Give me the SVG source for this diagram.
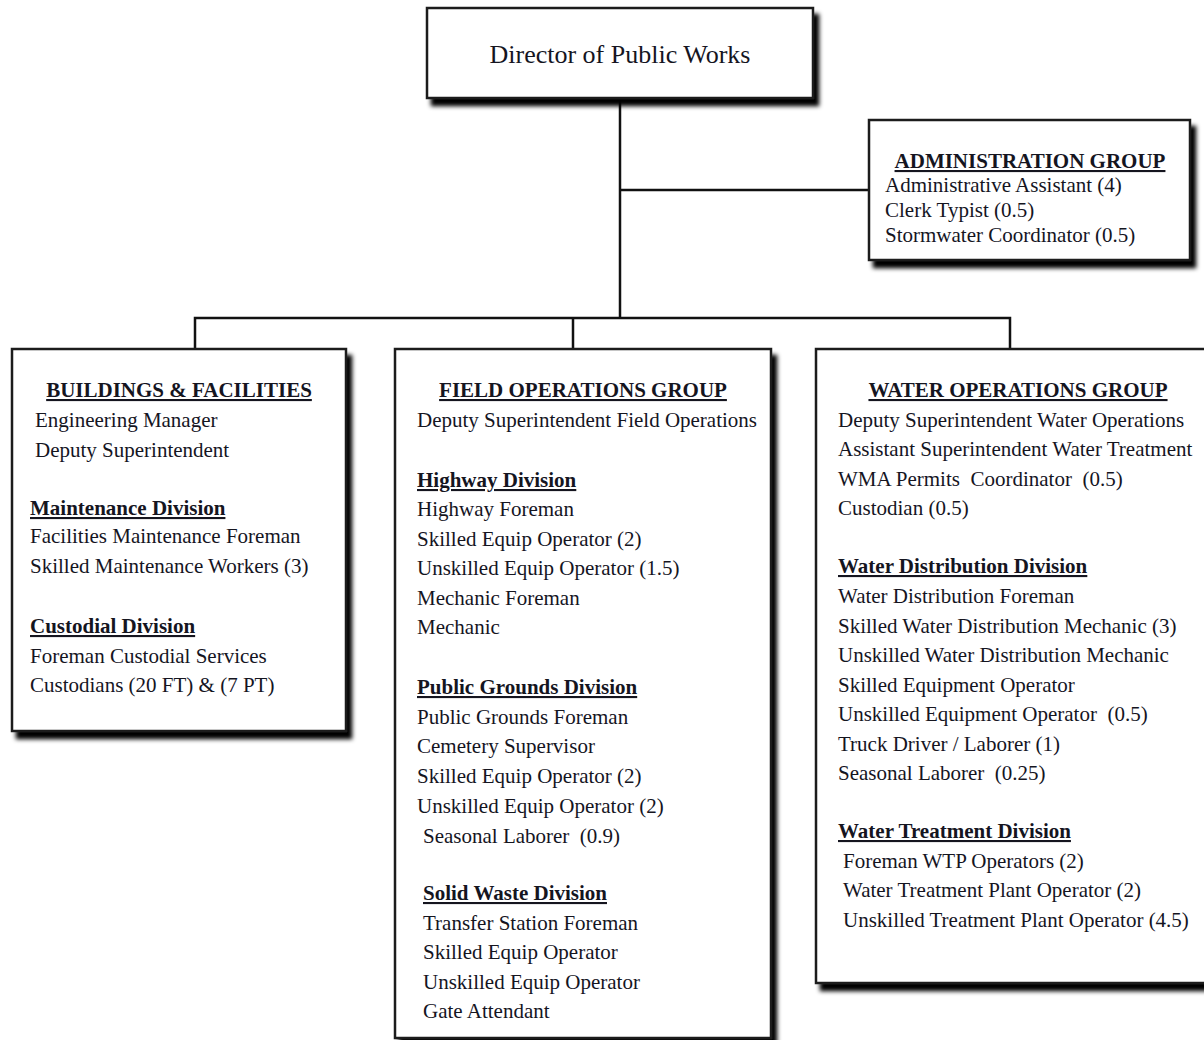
<svg xmlns="http://www.w3.org/2000/svg" width="1204" height="1040" viewBox="0 0 1204 1040">
  <defs>
    <filter id="drop" x="-10%" y="-10%" width="130%" height="130%">
      <feGaussianBlur in="SourceAlpha" stdDeviation="2" result="b"/>
      <feOffset in="b" dx="5" dy="7" result="o"/>
      <feMerge>
        <feMergeNode in="o"/>
        <feMergeNode in="SourceGraphic"/>
      </feMerge>
    </filter>
  </defs>
  <style>
    .box { fill: #ffffff; stroke: #1a1a1a; stroke-width: 2.5; }
    .conn { fill: none; stroke: #111111; stroke-width: 2.5; }
    text { font-family: "Liberation Serif", "Times New Roman", serif; font-size: 21px; fill: #15151f; }
    .head { font-weight: bold; text-decoration: underline; }
    .title { font-size: 26px; }
  </style>
  <rect width="1204" height="1040" fill="#ffffff"/>

  <!-- connectors -->
  <g id="connectors">
    <path class="conn" d="M620 98 V318"/>
    <path class="conn" d="M620 190 H869"/>
    <path class="conn" d="M195 349 V318 H1010 V349"/>
    <path class="conn" d="M573 318 V349"/>
  </g>

  <!-- top level -->
  <g id="director">
    <rect class="box" x="427" y="8" width="386" height="90" filter="url(#drop)"/>
    <text class="title" x="620" y="63" text-anchor="middle">Director of Public Works</text>
  </g>

  <g id="administration">
    <rect class="box" x="869" y="120" width="321" height="140" filter="url(#drop)"/>
    <text class="head" x="1030" y="168" text-anchor="middle">ADMINISTRATION GROUP</text>
    <text x="885" y="192">Administrative Assistant (4)</text>
    <text x="885" y="217">Clerk Typist (0.5)</text>
    <text x="885" y="242">Stormwater Coordinator (0.5)</text>
  </g>

  <g id="buildings">
    <rect class="box" x="12" y="349" width="334" height="382" filter="url(#drop)"/>
    <text class="head" x="179" y="397" text-anchor="middle">BUILDINGS &amp; FACILITIES</text>
    <text x="35" y="427">Engineering Manager</text>
    <text x="35" y="457">Deputy Superintendent</text>
    <text class="head" x="30" y="515">Maintenance Division</text>
    <text x="30" y="543">Facilities Maintenance Foreman</text>
    <text x="30" y="573">Skilled Maintenance Workers (3)</text>
    <text class="head" x="30" y="633">Custodial Division</text>
    <text x="30" y="663">Foreman Custodial Services</text>
    <text x="30" y="692">Custodians (20 FT) &amp; (7 PT)</text>
  </g>

  <g id="field-operations">
    <rect class="box" x="395" y="349" width="376" height="689" filter="url(#drop)"/>
    <text class="head" x="583" y="397" text-anchor="middle">FIELD OPERATIONS GROUP</text>
    <text x="417" y="427">Deputy Superintendent Field Operations</text>
    <text class="head" x="417" y="487">Highway Division</text>
    <text x="417" y="516">Highway Foreman</text>
    <text x="417" y="546">Skilled Equip Operator (2)</text>
    <text x="417" y="575">Unskilled Equip Operator (1.5)</text>
    <text x="417" y="605">Mechanic Foreman</text>
    <text x="417" y="634">Mechanic</text>
    <text class="head" x="417" y="694">Public Grounds Division</text>
    <text x="417" y="724">Public Grounds Foreman</text>
    <text x="417" y="753">Cemetery Supervisor</text>
    <text x="417" y="783">Skilled Equip Operator (2)</text>
    <text x="417" y="813">Unskilled Equip Operator (2)</text>
    <text x="423" y="843" xml:space="preserve">Seasonal Laborer  (0.9)</text>
    <text class="head" x="423" y="900">Solid Waste Division</text>
    <text x="423" y="930">Transfer Station Foreman</text>
    <text x="423" y="959">Skilled Equip Operator</text>
    <text x="423" y="989">Unskilled Equip Operator</text>
    <text x="423" y="1018">Gate Attendant</text>
  </g>

  <g id="water-operations">
    <rect class="box" x="816" y="349" width="400" height="634" filter="url(#drop)"/>
    <text class="head" x="1018" y="397" text-anchor="middle">WATER OPERATIONS GROUP</text>
    <text x="838" y="427">Deputy Superintendent Water Operations</text>
    <text x="838" y="456">Assistant Superintendent Water Treatment</text>
    <text x="838" y="486" xml:space="preserve">WMA Permits  Coordinator  (0.5)</text>
    <text x="838" y="515">Custodian (0.5)</text>
    <text class="head" x="838" y="573">Water Distribution Division</text>
    <text x="838" y="603">Water Distribution Foreman</text>
    <text x="838" y="633">Skilled Water Distribution Mechanic (3)</text>
    <text x="838" y="662">Unskilled Water Distribution Mechanic</text>
    <text x="838" y="692">Skilled Equipment Operator</text>
    <text x="838" y="721" xml:space="preserve">Unskilled Equipment Operator  (0.5)</text>
    <text x="838" y="751">Truck Driver / Laborer (1)</text>
    <text x="838" y="780" xml:space="preserve">Seasonal Laborer  (0.25)</text>
    <text class="head" x="838" y="838">Water Treatment Division</text>
    <text x="843" y="868">Foreman WTP Operators (2)</text>
    <text x="843" y="897">Water Treatment Plant Operator (2)</text>
    <text x="843" y="927">Unskilled Treatment Plant Operator (4.5)</text>
  </g>
</svg>
